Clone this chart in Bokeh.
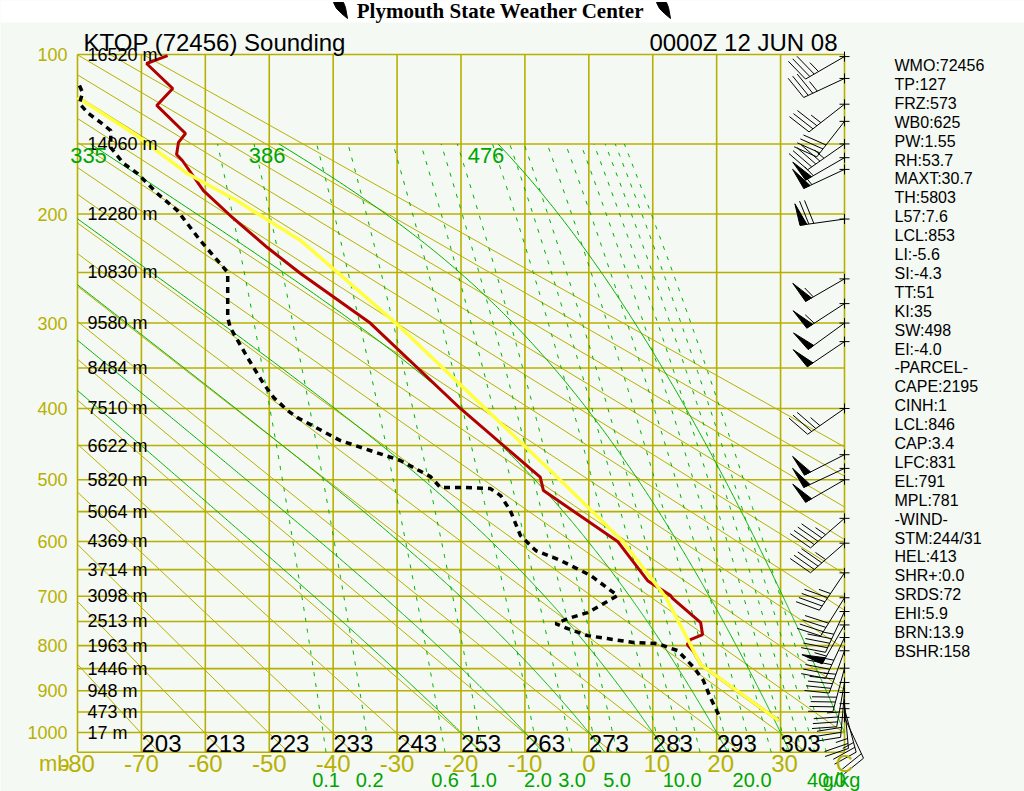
import numpy as np
from bokeh.plotting import figure
from bokeh.models import Range1d
from bokeh.core.properties import value
from bokeh.embed import file_html
from bokeh.resources import INLINE

# ------------------------------------------------------------------ data
site_title = "Plymouth State Weather Center"
station_title = "KTOP (72456) Sounding"
time_title = "0000Z 12 JUN 08"

grid_pressures = list(range(100, 1001, 50))
pressure_labels = [100, 200, 300, 400, 500, 600, 700, 800, 900, 1000]
height_labels = ["16520 m", "14060 m", "12280 m", "10830 m", "9580 m", "8484 m",
                 "7510 m", "6622 m", "5820 m", "5064 m", "4369 m", "3714 m",
                 "3098 m", "2513 m", "1963 m", "1446 m", "948 m", "473 m", "17 m"]
temp_ticks = [-80, -70, -60, -50, -40, -30, -20, -10, 0, 10, 20, 30, 40]
temp_tick_labels = ["-80", "-70", "-60", "-50", "-40", "-30", "-20", "-10",
                    "0", "10", "20", "30", "C"]
theta_labels = [203, 213, 223, 233, 243, 253, 263, 273, 283, 293, 303]
dry_thetas = [203, 213, 223, 233, 243, 253, 263, 273, 283, 293, 303, 313,
              323, 333, 343, 353, 363, 373, 383, 393]
moist_thetaw = [-20, -10, 0, 10, 20, 30, 40]
moist_label_thetaw = [20, 30, 40]
moist_label_text = ["335", "386", "476"]
mixing_ratios = [0.1, 0.2, 0.6, 1, 2, 3, 4, 5, 8, 10, 12, 16, 20, 24, 28, 32, 36, 40]
mixing_labels = [0.1, 0.2, 0.6, 1.0, 2.0, 3.0, 5.0, 10.0, 20.0, 40.0]

temp_p = [100.5, 104.4, 117.3, 126.7, 143.4, 149.0, 156.9, 160.9, 182.1, 201.2,
          227.7, 251.0, 300, 400, 496, 516.6, 600, 670.5, 698.9, 704, 752.5,
          777, 787.4, 798, 813, 841, 906, 970.7]
temp_c = [-65.9, -69.2, -65.1, -67.6, -63.1, -64.2, -64.5, -63.6, -60.3, -56.1,
          -50.3, -45.1, -34.2, -20.1, -7.6, -7.1, 4.5, 9.2, 12.8, 13.1, 17.5,
          17.8, 15.9, 15.4, 16.4, 17.5, 23.7, 29.7]

dewp_p = [115.7, 119.5, 125.6, 131.3, 136.6, 141.6, 152.3, 162.9, 169.9, 184.3,
          197.2, 221.6, 239.1, 250, 267.1, 294.2, 304.8, 338, 368.7, 386.1,
          402.8, 411.9, 443, 471.4, 495, 512, 512, 513.5, 524.4, 548.2, 589.8,
          615.9, 633.6, 661, 698.9, 718.3, 732.1, 744.4, 754.4, 764.6, 779,
          785.2, 793.6, 795.7, 810.7, 847, 875.8, 915.3, 965.8]
dewp_c = [-79.7, -79.2, -79.7, -78.3, -76.4, -74.8, -74.8, -72.8, -70.6, -67.5,
          -64.4, -60.8, -58.1, -56.5, -56.5, -56.5, -56.1, -53.4, -50.9, -49.3,
          -47.1, -45.6, -38.9, -29.5, -24.8, -23.2, -19.3, -15.4, -13.8, -12.3,
          -10.7, -8.3, -4.4, 0.3, 4.5, 1.8, -0.2, -3.3, -5.2, -3.3, -0.2,
          2.9, 7.0, 10.7, 13.9, 16.4, 17.9, 19.0, 20.6]

parcel_p = [122.2, 143.4, 169.9, 189.6, 221.6, 300, 400, 501, 600, 701, 798, 841, 970.7]
parcel_c = [-80.0, -71.2, -62.8, -55.1, -45.1, -30.2, -16.2, -4.4, 5.3, 12.0, 15.9, 17.5, 29.7]

wind_p = [101, 112, 126, 136, 150, 159, 167, 204, 256, 280, 300, 320, 400, 463,
          483, 500, 561, 603, 656, 703, 730, 757, 783, 811, 849, 881, 904, 930,
          942, 963]
wind_dir = [240, 245, 232, 218, 235, 240, 245, 262, 240, 237, 234, 236, 235, 243,
            245, 240, 229, 229, 214, 212, 205, 210, 205, 200, 195, 190, 185, 175,
            165, 155]
wind_spd = [35, 35, 35, 40, 45, 55, 60, 70, 55, 55, 50, 50, 35, 50,
            50, 50, 45, 45, 45, 40, 45, 55, 45, 45, 40, 35, 30, 25,
            25, 20]

stats = ["WMO:72456", "TP:127", "FRZ:573", "WB0:625", "PW:1.55", "RH:53.7",
         "MAXT:30.7", "TH:5803", "L57:7.6", "LCL:853", "LI:-5.6", "SI:-4.3",
         "TT:51", "KI:35", "SW:498", "EI:-4.0", "-PARCEL-", "CAPE:2195", "CINH:1",
         "LCL:846", "CAP:3.4", "LFC:831", "EL:791", "MPL:781", "-WIND-",
         "STM:244/31", "HEL:413", "SHR+:0.0", "SRDS:72", "EHI:5.9", "BRN:13.9",
         "BSHR:158"]

# ------------------------------------------------------------------ geometry
KAP = 0.286
X_LEFT, X_RIGHT = 77.0, 844.0          # page pixels of -80 C and 40 C
Y_TOP, Y_1000 = 54.0, 732.0            # page pixels of 100 mb and 1000 mb
T_MIN, T_MAX = -80.0, 40.0
P_TOP, P_BOT = 100.0, 1050.0
PPD = (X_RIGHT - X_LEFT) / (T_MAX - T_MIN)
U100, U1000 = P_TOP ** KAP, 1000.0 ** KAP
PPU = (Y_1000 - Y_TOP) / (U1000 - U100)
W, H = 1024, 791


def up(pr):
    return np.asarray(pr, dtype=float) ** KAP


def sx(X):
    return T_MIN + (X - X_LEFT) / PPD


def sy(Y):
    return U100 + (Y - Y_TOP) / PPU


def Xpix(T):
    return X_LEFT + (T - T_MIN) * PPD


def Ypix(pr):
    return Y_TOP + (up(pr) - U100) * PPU


BG = "#F4F9F4"
OLIVE = "#B8B000"
GREEN = "#00B000"
GREEN_TXT = "#00A400"
RED = "#B00000"
YELLOW = "#FFFF40"
FONT = value("Liberation Sans")

p = figure(width=W, height=H,
           x_range=Range1d(sx(0), sx(W)),
           y_range=Range1d(sy(H), sy(0)),
           x_axis_type=None, y_axis_type=None, toolbar_location=None,
           output_backend="svg", min_border=0,
           background_fill_color=BG, border_fill_color=BG,
           outline_line_color=None)
p.title_location = None

p.quad(left=[sx(0)], right=[sx(W)], top=[sy(0)], bottom=[sy(22)],
       fill_color="white", line_color=None)


# ------------------------------------------------------------------ helpers
def es(T):
    return 6.112 * np.exp(17.67 * T / (T + 243.5))


def moist_lapse(T, pr):
    Tk = T + 273.15
    e = es(T)
    rs = 0.622 * e / (pr - e)
    Rd, cp, L = 287.04, 1005.7, 2.501e6
    num = Rd * Tk + L * rs
    den = cp + (L * L * rs * 0.622) / (Rd * Tk * Tk)
    return num / den / pr


def integrate(T0, p0, p1, step=2.0):
    h = step if p1 > p0 else -step
    n = int(round(abs(p1 - p0) / step))
    T, pr = T0, p0
    ps, Ts = [pr], [T]
    for _ in range(n):
        k1 = moist_lapse(T, pr)
        k2 = moist_lapse(T + h / 2 * k1, pr + h / 2)
        k3 = moist_lapse(T + h / 2 * k2, pr + h / 2)
        k4 = moist_lapse(T + h * k3, pr + h)
        T += h / 6 * (k1 + 2 * k2 + 2 * k3 + k4)
        pr += h
        ps.append(pr)
        Ts.append(T)
    return ps, Ts


def clip_T(Ts, us):
    segs, cx, cy = [], [], []
    for i in range(len(Ts)):
        inside = T_MIN <= Ts[i] <= T_MAX
        if i > 0:
            prev_in = T_MIN <= Ts[i - 1] <= T_MAX
            if inside != prev_in:
                b = T_MIN if min(Ts[i], Ts[i - 1]) < T_MIN else T_MAX
                f = (b - Ts[i - 1]) / (Ts[i] - Ts[i - 1])
                cx.append(b)
                cy.append(us[i - 1] + f * (us[i] - us[i - 1]))
                if not inside:
                    segs.append((cx, cy))
                    cx, cy = [], []
        if inside:
            cx.append(float(Ts[i]))
            cy.append(float(us[i]))
    if cx:
        segs.append((cx, cy))
    return segs


def td_of_w(w, pr):
    e = w * pr / (622.0 + w)
    lg = np.log(e / 6.112)
    return 243.5 * lg / (17.67 - lg)


# ------------------------------------------------------------------ background
p.segment(x0=[T_MIN] * len(grid_pressures), x1=[T_MAX] * len(grid_pressures),
          y0=up(grid_pressures), y1=up(grid_pressures),
          line_color=OLIVE, line_width=1.6)
p.segment(x0=[T_MIN], x1=[T_MAX], y0=[up(P_BOT)], y1=[up(P_BOT)],
          line_color=OLIVE, line_width=1.6)
p.segment(x0=temp_ticks, x1=temp_ticks, y0=[U100] * len(temp_ticks),
          y1=[float(up(P_BOT))] * len(temp_ticks), line_color=OLIVE, line_width=1.6)

dx0, dx1, dy0, dy1 = [], [], [], []
for th in dry_thetas:
    uL = (T_MIN + 273.15) * U1000 / th
    uR = (T_MAX + 273.15) * U1000 / th
    ua, ub = max(U100, uL), min(float(up(P_BOT)), uR)
    if ua < ub:
        dx0.append(th * ua / U1000 - 273.15)
        dy0.append(ua)
        dx1.append(th * ub / U1000 - 273.15)
        dy1.append(ub)
p.segment(x0=dx0, y0=dy0, x1=dx1, y1=dy1, line_color=OLIVE, line_width=1)

mxs, mys, moist_tops = [], [], {}
for tw in moist_thetaw:
    pu, Tu = integrate(float(tw), 1000.0, 150.0)
    pd, Td = integrate(float(tw), 1000.0, P_BOT)
    ps = list(reversed(pd))[:-1] + pu
    Ts = list(reversed(Td))[:-1] + Tu
    moist_tops[tw] = Tu[-1]
    for sxx, syy in clip_T(np.array(Ts), up(ps)):
        mxs.append(sxx)
        mys.append(syy)
p.multi_line(xs=mxs, ys=mys, line_color=GREEN, line_width=1)

wxs, wys = [], []
pw_grid = np.linspace(P_BOT, 150.0, 120)
for w in mixing_ratios:
    Tw = td_of_w(w, pw_grid)
    for sxx, syy in clip_T(Tw, up(pw_grid)):
        wxs.append(sxx)
        wys.append(syy)
p.multi_line(xs=wxs, ys=wys, line_color=GREEN, line_width=1, line_dash="4 7")

# ------------------------------------------------------------------ soundings
p.line(x=temp_c, y=up(temp_p), line_color=RED, line_width=3)
p.line(x=parcel_c, y=up(parcel_p), line_color=YELLOW, line_width=3.5)
p.line(x=dewp_c, y=up(dewp_p), line_color="black", line_width=3.5, line_dash="6 5")

# ------------------------------------------------------------------ wind barbs
bx0, by0, bx1, by1, fxs, fys = [], [], [], [], [], []


def seg(a, b):
    bx0.append(sx(a[0]))
    by0.append(sy(a[1]))
    bx1.append(sx(b[0]))
    by1.append(sy(b[1]))


for pw, dd, ss in zip(wind_p, wind_dir, wind_spd):
    OX, OY = X_RIGHT, float(Ypix(pw))
    a = np.radians(dd)
    ux, uy = np.sin(a), -np.cos(a)
    vx, vy = -uy, ux
    L = 45.0
    TX, TY = OX + ux * L, OY + uy * L
    seg((OX, OY), (TX, TY))
    spd = int(5 * round(ss / 5.0))
    nf = spd // 50
    rem = spd - 50 * nf
    nb = rem // 10
    nh = (rem - 10 * nb) // 5
    k = 0.0
    for _ in range(nf):
        P0 = (TX - ux * k, TY - uy * k)
        P1 = (TX - ux * (k + 7), TY - uy * (k + 7))
        A = (P0[0] + vx * 22 + ux * 2, P0[1] + vy * 22 + uy * 2)
        fxs.append([sx(P0[0]), sx(A[0]), sx(P1[0])])
        fys.append([sy(P0[1]), sy(A[1]), sy(P1[1])])
        k += 9
    for _ in range(nb):
        P0 = (TX - ux * k, TY - uy * k)
        seg(P0, (P0[0] + vx * 24 + ux * 6, P0[1] + vy * 24 + uy * 6))
        k += 5
    if nh:
        if k == 0:
            k = 5
        P0 = (TX - ux * k, TY - uy * k)
        seg(P0, (P0[0] + vx * 12 + ux * 3, P0[1] + vy * 12 + uy * 3))

p.segment(x0=bx0, y0=by0, x1=bx1, y1=by1, line_color="black", line_width=1)
p.patches(xs=fxs, ys=fys, fill_color="black", line_color="black", line_width=1)
p.scatter(x=[T_MAX] * len(wind_p), y=up(wind_p), marker="cross", size=10,
          line_color="black", line_width=1)

# ------------------------------------------------------------------ texts
p.text(x=[sx(67)] * len(pressure_labels), y=up(pressure_labels),
       text=[str(v) for v in pressure_labels], text_font=FONT, text_font_size="18px",
       text_color=OLIVE, text_align="right", text_baseline="middle")
p.text(x=[sx(87)] * len(height_labels), y=up(grid_pressures), text=height_labels,
       text_font=FONT, text_font_size="18px", text_color="black",
       text_align="left", text_baseline="middle")

tx = [t + (4 / PPD if (t > 0 and t < 40) else 0) for t in temp_ticks]
p.text(x=tx, y=[sy(763)] * len(temp_ticks), text=temp_tick_labels, text_font=FONT,
       text_font_size="24px", text_color=OLIVE, text_align="center",
       text_baseline="middle")
p.text(x=[sx(69)], y=[sy(763)], text=["mb"], text_font=FONT, text_font_size="22px",
       text_color=OLIVE, text_align="right", text_baseline="middle")

p.text(x=[th - 273.15 + 1 / PPD for th in theta_labels], y=[sy(743)] * len(theta_labels),
       text=[str(v) for v in theta_labels], text_font=FONT, text_font_size="24px",
       text_color="black", text_align="left", text_baseline="middle")

p.text(x=[float(td_of_w(w, P_BOT)) for w in mixing_labels],
       y=[sy(779)] * len(mixing_labels), text=["%.1f" % w for w in mixing_labels],
       text_font=FONT, text_font_size="20px", text_color=GREEN_TXT,
       text_align="center", text_baseline="middle")
p.text(x=[sx(822)], y=[sy(779)], text=["g/kg"], text_font=FONT, text_font_size="20px",
       text_color=GREEN_TXT, text_align="left", text_baseline="middle")

p.text(x=[max(moist_tops[t] - 12 / PPD, sx(88)) for t in moist_label_thetaw],
       y=[sy(155)] * len(moist_label_thetaw), text=moist_label_text, text_font=FONT,
       text_font_size="22px", text_color=GREEN_TXT, text_align="center",
       text_baseline="middle")

p.text(x=[sx(83)], y=[sy(42)], text=[station_title], text_font=FONT,
       text_font_size="24px", text_color="black", text_align="left",
       text_baseline="middle")
p.text(x=[sx(837)], y=[sy(42)], text=[time_title], text_font=FONT,
       text_font_size="24px", text_color="black", text_align="right",
       text_baseline="middle")

p.text(x=[sx(894)] * len(stats), y=[sy(65 + i * 18.9) for i in range(len(stats))],
       text=stats, text_font=FONT, text_font_size="16px", text_color="black",
       text_align="left", text_baseline="middle")

p.text(x=[sx(500)], y=[sy(10)], text=[site_title], text_font=value("Liberation Serif"),
       text_font_size="21px", text_font_style="bold", text_color="black",
       text_align="center", text_baseline="middle")
logo = [(0, 0), (10, 0), (12, 5), (14, 16), (8, 11), (3, 6)]
lxs, lys = [], []
for ax, ay in [(333, 2), (656, 2)]:
    lxs.append([sx(ax + dx) for dx, dy in logo])
    lys.append([sy(ay + dy) for dx, dy in logo])
p.patches(xs=lxs, ys=lys, fill_color="black", line_color="black")

open("out.html", "w").write(file_html(p, INLINE))
